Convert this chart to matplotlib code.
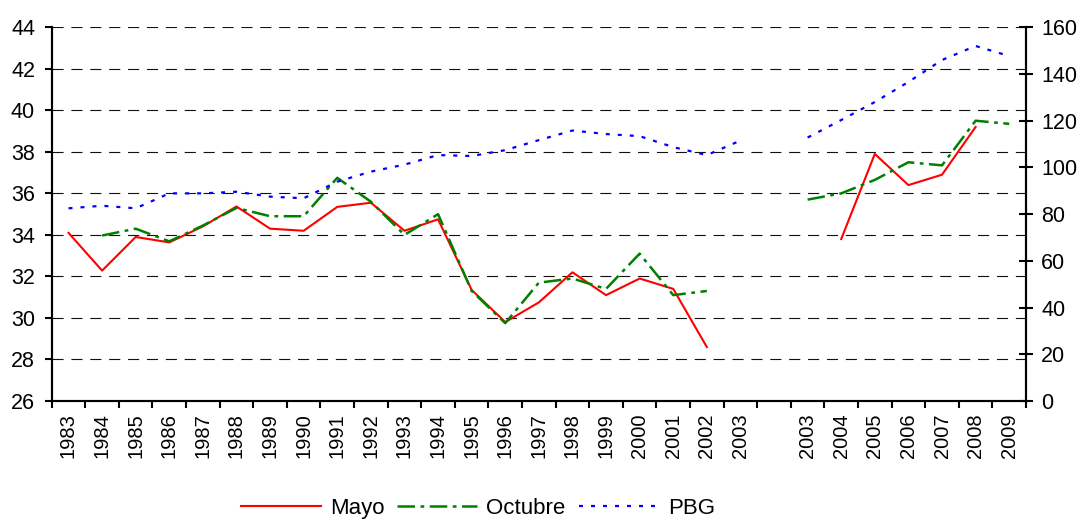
import numpy as np
import matplotlib
matplotlib.use("Agg")
import matplotlib.pyplot as plt

plt.rcParams['font.family'] = ['Liberation Sans', 'DejaVu Sans']

nan = np.nan
years = ['1983', '1984', '1985', '1986', '1987', '1988', '1989', '1990', '1991', '1992',
         '1993', '1994', '1995', '1996', '1997', '1998', '1999', '2000', '2001', '2002',
         '2003', '', '2003', '2004', '2005', '2006', '2007', '2008', '2009']

mayo = [34.1, 32.28, 33.9, 33.64, 34.41, 35.37, 34.3, 34.2, 35.35, 35.55,
        34.2, 34.75, 31.35, 29.8, 30.75, 32.2, 31.1, 31.9, 31.4, 28.6,
        nan, nan, nan, 33.8, 37.9, 36.4, 36.9, 39.2, nan]

octubre = [nan, 33.97, 34.3, 33.69, 34.45, 35.3, 34.9, 34.9, 36.75, 35.6,
           34.0, 35.0, 31.3, 29.75, 31.7, 31.9, 31.4, 33.1, 31.1, 31.3,
           nan, nan, 35.7, 36.0, 36.65, 37.5, 37.35, 39.5, 39.35]

pbg = [82.5, 83.6, 82.5, 88.9, 88.9, 89.6, 87.5, 86.8, 93.9, 98.2,
       101.2, 105.3, 104.9, 107.4, 111.7, 115.8, 114.3, 113.4, 108.7, 105.3,
       111.5, nan, 112.8, 120.3, 128.0, 136.6, 146.0, 152.0, 147.7]

x = np.arange(len(years))

fig = plt.figure(figsize=(10.81, 5.19), dpi=100)
ax = fig.add_axes([51.7/1081, 1-401/519, (1026-51.7)/1081, (401-27.3)/519])
ax2 = ax.twinx()

ax.set_xlim(-0.5, len(years) - 0.5)
ax.set_ylim(26, 44)
ax.set_yticks(np.arange(26, 45, 2))
ax2.set_ylim(0, 160)
ax2.set_yticks(np.arange(0, 161, 20))

# grid
for yv in np.arange(28, 45, 2):
    ax.axhline(yv, color='#111111', lw=0.8, dashes=(10, 7), zorder=0)

l1, = ax.plot(x, mayo, color='#ff0000', lw=1.5, zorder=3)
l2, = ax.plot(x, octubre, color='#008000', lw=1.8, dashes=(7, 2.2, 1.5, 2.2), zorder=3)
l3, = ax2.plot(x, pbg, color='#0000ff', lw=1.6, dashes=(1.8, 3.6), zorder=3)

# x ticks at category boundaries, labels at centres
ax.set_xticks(np.arange(-0.5, len(years), 1.0))
ax.set_xticklabels([])
ax.set_xticks(x, minor=True)
ax.set_xticklabels(years, minor=True, rotation=90, fontsize=14.5)
ax.tick_params(axis='x', which='major', direction='out', length=5, width=1.5)
ax.tick_params(axis='x', which='minor', length=0, pad=9)
ax.tick_params(axis='y', direction='out', length=5, width=1.5, labelsize=15.5, pad=7)
ax2.tick_params(axis='y', direction='inout', length=10, width=1.5, labelsize=15.5, pad=6)

for a in (ax, ax2):
    a.spines['top'].set_visible(False)
    for s in ('left', 'right', 'bottom'):
        a.spines[s].set_linewidth(1.5)
        a.spines[s].set_color('black')

fig.legend([l1, l2, l3], ['Mayo', 'Octubre', 'PBG'], loc='center',
           bbox_to_anchor=(0.442, 0.021), ncol=3, frameon=False, fontsize=16,
           handlelength=3.6, handletextpad=0.4, columnspacing=0.6)

fig.savefig('out.png', dpi=100)
